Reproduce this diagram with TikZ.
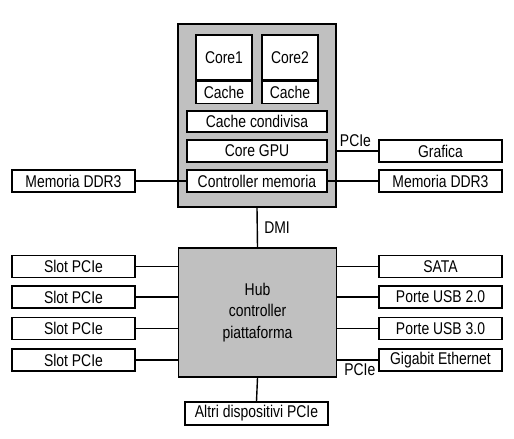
\documentclass[tikz,border=0pt]{standalone}
\usepackage{fontspec}
\setsansfont{Liberation Sans}[FakeStretch=0.82]
\usepackage{tikz}
\usetikzlibrary{positioning,calc}
\definecolor{chip}{RGB}{192,192,192}

\begin{document}
\begin{tikzpicture}[x=1pt, y=-1pt, font=\sffamily\fontsize{17}{21.5}\selectfont,
  box/.style={draw,fill=white,line width=1.5pt,inner sep=0pt,minimum width=123pt,minimum height=22pt},
  unit/.style={draw,fill=white,line width=1.5pt,inner sep=0pt,minimum width=140pt,minimum height=21pt},
  block/.style={draw,fill=chip,line width=1.6pt,inner sep=0pt,minimum width=158pt},
  wire/.style={line width=1.4pt}]
\useasboundingbox (0,0) rectangle (514,439);

% Processore
\node(cpu)[block,minimum height=183pt] at (257,115.5){};
\node(core1)[unit,minimum width=56pt,minimum height=45pt] at (224,57.5){Core1};
\node(cache1)[unit,minimum width=56pt,minimum height=22pt,below=0pt of core1]{Cache};
\node(core2)[unit,minimum width=56pt,minimum height=45pt] at (290,57.5){Core2};
\node(cache2)[unit,minimum width=56pt,minimum height=22pt,below=0pt of core2]{Cache};
\node(shared)[unit] at (257,121.5){Cache condivisa};
\node(gpu)[unit,minimum height=22pt] at (257,151){Core GPU};
\node(memctrl)[unit,minimum height=22pt] at (257,181){Controller memoria};

\node(memleft)[box] at (73.5,181){Memoria DDR3};
\node(memright)[box] at (440.5,181){Memoria DDR3};
\node(graphics)[box] at (440.5,151){Grafica};

% Hub
\node(hub)[block,minimum height=129pt,align=center] at (257.5,312.5){Hub\\controller\\piattaforma};
\foreach \y [count=\i] in {266.5,297,328.5,360}
  \node(slot\i)[box] at (73.5,\y){Slot PCIe};
\node(sata)[box] at (440.5,266.5){SATA};
\node(usbtwo)[box] at (440.5,297){Porte USB 2.0};
\node(usbthree)[box] at (440.5,328.5){Porte USB 3.0};
\node(ethernet)[box] at (440.5,360){Gigabit Ethernet};
\node(others)[box,minimum width=143pt,minimum height=23pt] at (256.5,413.5){Altri dispositivi PCIe};

% Collegamenti
\draw[wire] (memleft.east) -- (memctrl.west);
\draw[wire] (memctrl.east) -- (memright.west);
\draw[wire] (gpu.east -| cpu.east) -- node[pos=0.45,above=0pt]{PCIe} (graphics.west);
\draw[wire] (cpu.south) -- node[right=3pt]{DMI} (hub.north);
\draw[wire] (hub.south) -- (others.north);
\foreach \i in {1,...,4}
  \draw[wire] (slot\i.east) -- (hub.west |- slot\i);
\foreach \n in {sata,usbtwo,usbthree}
  \draw[wire] (hub.east |- \n) -- (\n.west);
\draw[wire] (hub.east |- ethernet) -- node[pos=0.55,below=0pt]{PCIe} (ethernet.west);
\end{tikzpicture}
\end{document}
